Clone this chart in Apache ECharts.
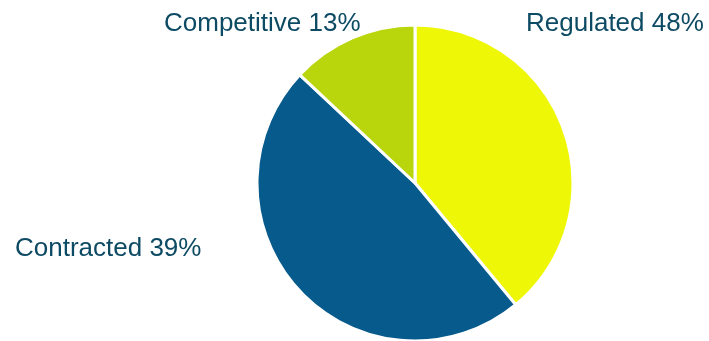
<!DOCTYPE html>
<html>
<head>
<meta charset="utf-8">
<script src="https://cdn.jsdelivr.net/npm/echarts@6/dist/echarts.min.js"></script>
<style>
html,body{margin:0;padding:0;background:#fff;}
#c{width:709px;height:341px;}
</style>
</head>
<body>
<div id="c"></div>
<script>
// Category names (order drawn clockwise from 12 o'clock)
const categories = ["Regulated", "Contracted", "Competitive"];
// Slice sizes as drawn in the picture
const sliceValues = [39, 48, 13];
// Percentages printed in the labels
const labelPercents = ["48%", "39%", "13%"];
const colors = ["#EEF705", "#065A8C", "#B9D50B"];

const labelPos = [
  {x: 526, y: 24, align: "left"},
  {x: 15, y: 249, align: "left"},
  {x: 164, y: 24, align: "left"}
];

const chart = echarts.init(document.getElementById("c"), null, {renderer: "canvas"});
chart.setOption({
  animation: false,
  series: [{
    type: "pie",
    center: [415, 183],
    radius: [0, 158],
    startAngle: 90,
    clockwise: true,
    avoidLabelOverlap: false,
    data: categories.map((n, i) => ({
      name: n,
      value: sliceValues[i],
      itemStyle: {color: colors[i]}
    })),
    itemStyle: {borderColor: "#ffffff", borderWidth: 3},
    label: {
      show: true,
      position: "outside",
      color: "#0D4A63",
      fontFamily: "Liberation Sans, Arial, sans-serif",
      fontSize: 26,
      formatter: p => categories[p.dataIndex] + " " + labelPercents[p.dataIndex]
    },
    labelLine: {show: false},
    labelLayout: p => ({
      x: labelPos[p.dataIndex].x,
      y: labelPos[p.dataIndex].y,
      align: labelPos[p.dataIndex].align,
      verticalAlign: "middle"
    }),
    emphasis: {disabled: true}
  }]
});
</script>
</body>
</html>
